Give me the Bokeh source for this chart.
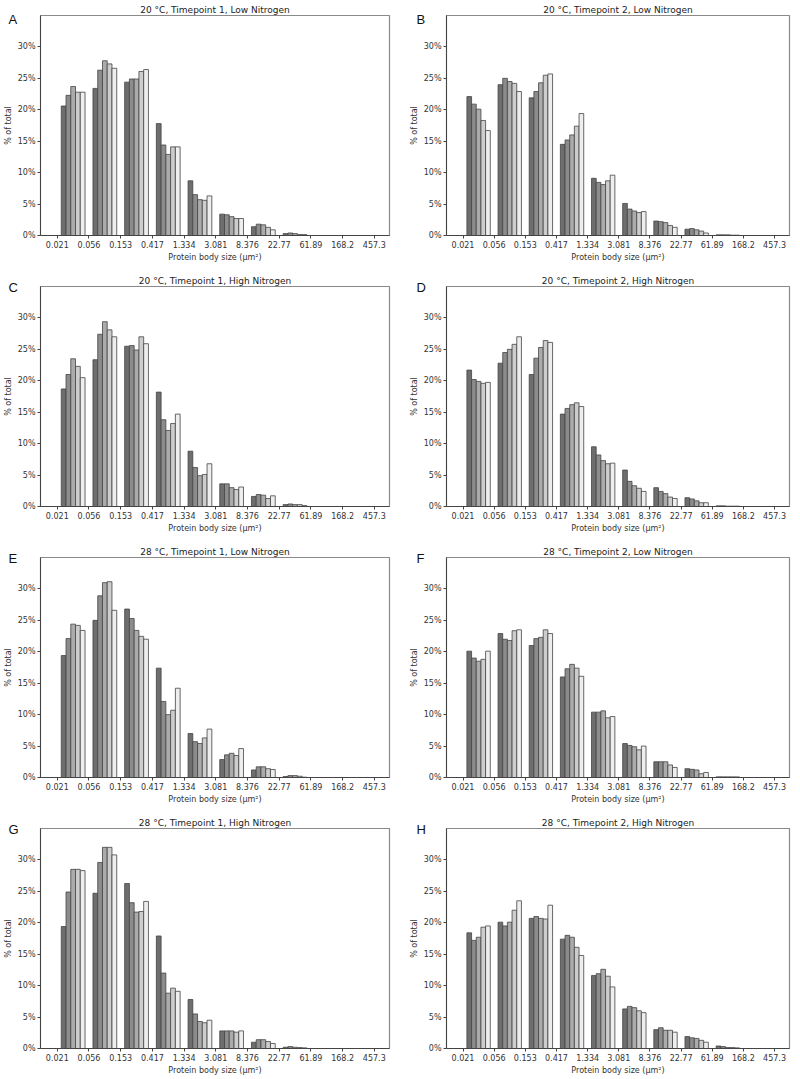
from bokeh.plotting import figure
from bokeh.layouts import column, row
from bokeh.models import FixedTicker, Label, Range1d
from bokeh.embed import file_html
from bokeh.resources import INLINE

# ---------------- data ----------------
size_labels = ["0.021", "0.056", "0.153", "0.417", "1.334", "3.081",
               "8.376", "22.77", "61.89", "168.2", "457.3"]
percent_ticks = [0, 5, 10, 15, 20, 25, 30]
series_colors = ["#6e6e6e", "#8c8c8c", "#ababab", "#cdcdcd", "#eeeeee"]

# each row = one size bin, five values = five series (dark -> light)
A_vals = [[20.6, 22.3, 23.7, 22.8, 22.8],
          [23.4, 26.3, 27.8, 27.3, 26.6],
          [24.4, 24.9, 24.9, 26.1, 26.4],
          [17.8, 14.4, 12.9, 14.1, 14.1],
          [8.7, 6.5, 5.7, 5.6, 6.3],
          [3.4, 3.3, 3.0, 2.7, 2.7],
          [1.4, 1.8, 1.7, 1.3, 0.9],
          [0.3, 0.4, 0.3, 0.15, 0.15],
          [0, 0, 0, 0, 0],
          [0, 0, 0, 0, 0]]
B_vals = [[22.1, 20.9, 20.1, 18.3, 16.7],
          [24.0, 25.0, 24.5, 24.2, 22.9],
          [21.9, 22.9, 24.3, 25.5, 25.7],
          [14.5, 15.2, 16.0, 17.4, 19.4],
          [9.1, 8.45, 8.1, 8.7, 9.6],
          [5.1, 4.2, 3.9, 3.65, 3.8],
          [2.3, 2.2, 2.05, 1.6, 1.3],
          [1.0, 1.1, 0.9, 0.7, 0.4],
          [0.1, 0.1, 0.1, 0.05, 0.05],
          [0, 0, 0, 0, 0]]
C_vals = [[18.7, 21.0, 23.5, 22.3, 20.5],
          [23.35, 27.4, 29.4, 28.1, 27.0],
          [25.5, 25.6, 24.9, 27.0, 25.9],
          [18.2, 13.8, 12.1, 13.2, 14.7],
          [8.8, 6.2, 4.9, 5.1, 6.8],
          [3.6, 3.6, 3.0, 2.7, 3.1],
          [1.6, 1.9, 1.8, 1.27, 1.7],
          [0.3, 0.4, 0.3, 0.3, 0.15],
          [0, 0, 0, 0, 0],
          [0, 0, 0, 0, 0]]
D_vals = [[21.7, 20.2, 19.9, 19.6, 19.75],
          [22.8, 24.5, 25.0, 25.8, 27.0],
          [21.0, 23.6, 25.3, 26.4, 26.1],
          [14.7, 15.6, 16.2, 16.5, 15.9],
          [9.5, 8.2, 7.3, 6.8, 6.9],
          [5.8, 4.0, 3.3, 2.9, 2.4],
          [3.0, 2.4, 2.05, 1.5, 1.27],
          [1.4, 1.2, 0.9, 0.6, 0.6],
          [0.1, 0.1, 0.05, 0.05, 0.05],
          [0, 0, 0, 0, 0]]
E_vals = [[19.4, 22.1, 24.4, 24.2, 23.4],
          [25.0, 28.9, 31.0, 31.15, 26.6],
          [26.8, 25.3, 23.4, 22.45, 22.0],
          [17.4, 12.1, 10.0, 10.7, 14.2],
          [7.0, 5.7, 5.4, 6.3, 7.7],
          [2.85, 3.6, 3.85, 3.5, 4.6],
          [1.2, 1.7, 1.7, 1.4, 1.27],
          [0.15, 0.3, 0.3, 0.2, 0.05],
          [0, 0, 0, 0, 0],
          [0, 0, 0, 0, 0]]
F_vals = [[20.1, 19.0, 18.5, 18.8, 20.1],
          [22.9, 22.0, 21.8, 23.35, 23.5],
          [21.0, 22.1, 22.3, 23.5, 22.9],
          [16.0, 17.3, 18.0, 17.4, 16.1],
          [10.4, 10.4, 10.6, 9.5, 9.7],
          [5.4, 5.1, 4.9, 4.4, 5.0],
          [2.5, 2.5, 2.5, 2.0, 1.6],
          [1.4, 1.3, 1.2, 0.6, 0.8],
          [0.1, 0.1, 0.1, 0.1, 0.1],
          [0, 0, 0, 0, 0]]
G_vals = [[19.4, 24.9, 28.5, 28.5, 28.3],
          [24.7, 29.6, 32.0, 32.0, 30.8],
          [26.25, 23.2, 21.7, 21.8, 23.4],
          [17.9, 12.0, 8.8, 9.6, 9.1],
          [7.8, 5.5, 4.3, 4.1, 4.5],
          [2.8, 2.8, 2.8, 2.6, 2.8],
          [1.0, 1.4, 1.4, 1.1, 0.8],
          [0.2, 0.3, 0.2, 0.15, 0.1],
          [0, 0, 0, 0, 0],
          [0, 0, 0, 0, 0]]
H_vals = [[18.4, 17.2, 17.7, 19.3, 19.5],
          [20.1, 19.5, 20.1, 22.0, 23.5],
          [20.7, 21.0, 20.7, 20.6, 22.8],
          [17.4, 18.0, 17.7, 16.1, 14.8],
          [11.6, 11.9, 12.6, 11.5, 9.8],
          [6.3, 6.7, 6.5, 6.0, 5.7],
          [3.0, 3.3, 2.9, 2.9, 2.6],
          [1.9, 1.7, 1.6, 1.3, 1.0],
          [0.4, 0.3, 0.15, 0.15, 0.1],
          [0, 0, 0, 0, 0]]

panel_letters = ["A", "B", "C", "D", "E", "F", "G", "H"]
panel_titles = ["20 °C, Timepoint 1, Low Nitrogen", "20 °C, Timepoint 2, Low Nitrogen",
                "20 °C, Timepoint 1, High Nitrogen", "20 °C, Timepoint 2, High Nitrogen",
                "28 °C, Timepoint 1, Low Nitrogen", "28 °C, Timepoint 2, Low Nitrogen",
                "28 °C, Timepoint 1, High Nitrogen", "28 °C, Timepoint 2, High Nitrogen"]
panel_data = [A_vals, B_vals, C_vals, D_vals, E_vals, F_vals, G_vals, H_vals]

FONT = "DejaVu Sans"
X_MIN, X_MAX = -0.53, 10.48
Y_MAX = 35
BAR_W = 0.15
FRAME_H = 220


def make_panel(letter, title, data, left_col, first_row, last_row):
    top_border = 15 if first_row else 11
    p = figure(frame_width=349 if left_col else 343, frame_height=FRAME_H,
               x_range=Range1d(X_MIN, X_MAX), y_range=Range1d(0, Y_MAX),
               output_backend="svg", toolbar_location=None,
               min_border_left=33, min_border_right=17 if left_col else 9,
               min_border_top=top_border,
               min_border_bottom=22 if last_row else 37,
               title=title, background_fill_color="white",
               border_fill_color="white")
    p.title.text_font = FONT
    p.title.text_font_size = "9px"
    p.title.text_font_style = "normal"
    p.title.text_color = "#222222"
    p.title.align = "center"
    p.title.standoff = 2

    nbins = len(data)
    for s in range(5):
        xs = [b + 0.5 + (s - 2) * BAR_W for b in range(nbins)]
        tops = [data[b][s] for b in range(nbins)]
        p.vbar(x=xs, top=tops, bottom=0, width=BAR_W,
               fill_color=series_colors[s], line_color="#444444",
               line_width=0.8)

    p.xgrid.visible = False
    p.ygrid.visible = False
    p.outline_line_color = "#8a8a8a"
    p.outline_line_width = 1.2

    p.xaxis.ticker = FixedTicker(ticks=list(range(len(size_labels))))
    p.xaxis.major_label_overrides = {i: lab for i, lab in enumerate(size_labels)}
    p.yaxis.ticker = FixedTicker(ticks=percent_ticks)
    p.yaxis.major_label_overrides = {t: f"{t}%" for t in percent_ticks}
    p.xaxis.axis_label = "Protein body size (μm²)"
    p.yaxis.axis_label = "% of total"

    for ax in (p.xaxis[0], p.yaxis[0]):
        ax.axis_line_color = "#444444"
        ax.axis_line_width = 1
        ax.major_tick_line_color = "#444444"
        ax.major_tick_in = 0
        ax.major_tick_out = 3
        ax.minor_tick_line_color = None
        ax.major_label_text_font = FONT
        ax.major_label_text_font_size = "8px"
        ax.major_label_text_color = "#333333"
        ax.major_label_standoff = 2
        ax.axis_label_text_font = FONT
        ax.axis_label_text_font_size = "8px"
        ax.axis_label_text_font_style = "normal"
        ax.axis_label_text_color = "#333333"
        ax.axis_label_standoff = 2

    # panel letter in the top-left corner of the figure canvas
    lx = 8 if left_col else 10
    ly = top_border + 4
    try:
        lab = Label(x=lx, y=ly, x_units="canvas", y_units="canvas",
                    text=letter, text_font="Liberation Sans",
                    text_font_size="13px", text_color="#111111",
                    text_baseline="middle", text_align="left")
    except Exception:
        lab = Label(x=lx, y=ly, x_units="screen", y_units="screen",
                    text=letter, text_font="Liberation Sans",
                    text_font_size="13px", text_color="#111111",
                    text_baseline="middle", text_align="left")
    p.add_layout(lab, "right")
    return p


rows = []
for r in range(4):
    figs = []
    for c in range(2):
        k = r * 2 + c
        figs.append(make_panel(panel_letters[k], panel_titles[k], panel_data[k],
                               left_col=(c == 0), first_row=(r == 0),
                               last_row=(r == 3)))
    rows.append(row(*figs))

layout = column(*rows)

with open("out.html", "w") as f:
    f.write(file_html(layout, INLINE))
